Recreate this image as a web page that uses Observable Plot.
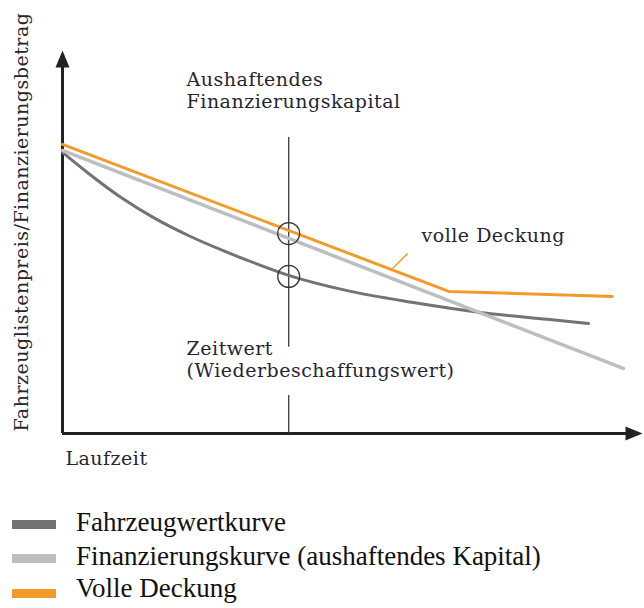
<!DOCTYPE html>
<html>
<head>
<meta charset="utf-8">
<script src="https://cdn.jsdelivr.net/npm/d3@7"></script>
<script src="https://cdn.jsdelivr.net/npm/@observablehq/plot@0.6"></script>
<style>
  body { margin: 0; background: #fff; }
  #wrap { position: relative; width: 644px; height: 608px; overflow: hidden; }
  #chart svg { display: block; }
  #chart svg text { letter-spacing: 0.5px; }
  .leg { position: absolute; font-family: "Liberation Serif", serif; font-size: 27px; color: #111; }
  .sw { position: absolute; left: 12px; width: 44px; height: 9px; }
  .lt { position: absolute; left: 76px; white-space: nowrap; line-height: 1; }
</style>
</head>
<body>
<div id="wrap">
  <div id="chart"></div>
  <div id="legend"></div>
</div>
<script>
// ---- data (abstract units: Laufzeit 0..100, Betrag 0..100) ----
const seriesNames = ["Fahrzeugwertkurve", "Finanzierungskurve (aushaftendes Kapital)", "Volle Deckung"];
const seriesColors = ["#737373", "#bdbec1", "#f29a2a"];

const wertX = [0, 4.5, 10.3, 16.0, 21.7, 27.6, 33.3, 39.0, 49.1, 60.5, 72.1, 83.6, 90.7];
const wertY = [73.4, 67.9, 61.4, 56.1, 51.7, 47.8, 44.4, 41.3, 37.3, 34.2, 31.6, 29.8, 28.7];

const finX = [0, 96.7];
const finY = [73.9, 17.0];

const deckX = [0, 66.6, 94.8];
const deckY = [75.5, 37.1, 35.8];

const markerX = 39.0;
const circleY = [52.2, 41.0];
const markerSegments = [[77.3, 22.5], [9.9, 0]];

const toPts = (xs, ys) => xs.map((x, i) => ({x, y: ys[i]}));
const wert = toPts(wertX, wertY);
const fin = toPts(finX, finY);
const deck = toPts(deckX, deckY);
const circles = circleY.map(y => ({x: markerX, y}));
const segs = markerSegments.map(([a, b]) => ({x: markerX, y1: a, y2: b}));

const arrowHead = {
  draw(ctx) { ctx.moveTo(0, -17); ctx.lineTo(7, 0); ctx.lineTo(-7, 0); ctx.closePath(); }
};
const textColor = "#262633";
const font = "DejaVu Serif";

const chart = Plot.plot({
  width: 644,
  height: 480,
  marginLeft: 62,
  marginRight: 2,
  marginTop: 50,
  marginBottom: 47,
  x: {domain: [0, 100], axis: null},
  y: {domain: [0, 100], axis: null},
  style: {fontFamily: font, background: "#fff", overflow: "visible"},
  marks: [
    // axes
    Plot.ruleX([0], {y1: 0, y2: 95.6, stroke: "#222", strokeWidth: 3}),
    Plot.ruleY([0], {x1: 0, x2: 97.6, stroke: "#222", strokeWidth: 3}),
    Plot.dot([{x: 0, y: 100}], {x: "x", y: "y", symbol: arrowHead, fill: "#222", stroke: "none", dy: 17}),
    Plot.dot([{x: 100, y: 0}], {x: "x", y: "y", symbol: arrowHead, fill: "#222", stroke: "none", rotate: 90, dx: -17}),
    // marker line
    Plot.ruleX(segs, {x: "x", y1: "y1", y2: "y2", stroke: "#3a3a3a", strokeWidth: 1.3}),
    // curves
    Plot.line(wert, {x: "x", y: "y", stroke: seriesColors[0], strokeWidth: 3, curve: "monotone-x"}),
    Plot.line(fin, {x: "x", y: "y", stroke: seriesColors[1], strokeWidth: 3.5}),
    Plot.line(deck, {x: "x", y: "y", stroke: seriesColors[2], strokeWidth: 3}),
    // circles
    Plot.dot(circles, {x: "x", y: "y", r: 11, stroke: "#333", strokeWidth: 1.2, fill: "none"}),
    // leader
    Plot.link([{x1: 56.9, y1: 43.1, x2: 59.5, y2: 47.0}], {x1: "x1", y1: "y1", x2: "x2", y2: "y2", stroke: seriesColors[2], strokeWidth: 1.5}),
    // annotations
    Plot.text(["Aushaftendes\nFinanzierungskapital"], {x: 21.4, y: 94.9, text: d => d, textAnchor: "start", lineAnchor: "top", lineHeight: 1.16, fontSize: 19, fill: textColor}),
    Plot.text(["Zeitwert\n(Wiederbeschaffungswert)"], {x: 21.4, y: 24.7, text: d => d, textAnchor: "start", lineAnchor: "top", lineHeight: 1.16, fontSize: 19, fill: textColor}),
    Plot.text(["volle Deckung"], {x: 61.9, y: 53.4, text: d => d, textAnchor: "start", lineAnchor: "top", fontSize: 19, fill: textColor}),
    Plot.text(["Laufzeit"], {x: 0.5, y: -4.8, text: d => d, textAnchor: "start", lineAnchor: "top", fontSize: 19, fill: textColor}),
    Plot.text(["Fahrzeuglistenpreis/Finanzierungsbetrag"], {x: -7.0, y: 55.2, text: d => d, rotate: -90, textAnchor: "middle", lineAnchor: "middle", fontSize: 19, fill: textColor})
  ]
});
document.getElementById("chart").appendChild(chart);

// legend (HTML, below the SVG)
const legend = document.getElementById("legend");
const swatchTops = [520, 554, 589];
const textTops = [509, 543, 575];
seriesNames.forEach((name, i) => {
  const sw = document.createElement("div");
  sw.className = "sw";
  sw.style.top = swatchTops[i] + "px";
  sw.style.background = seriesColors[i];
  legend.appendChild(sw);
  const t = document.createElement("div");
  t.className = "lt leg";
  t.style.top = textTops[i] + "px";
  t.textContent = name;
  legend.appendChild(t);
});
</script>
</body>
</html>
